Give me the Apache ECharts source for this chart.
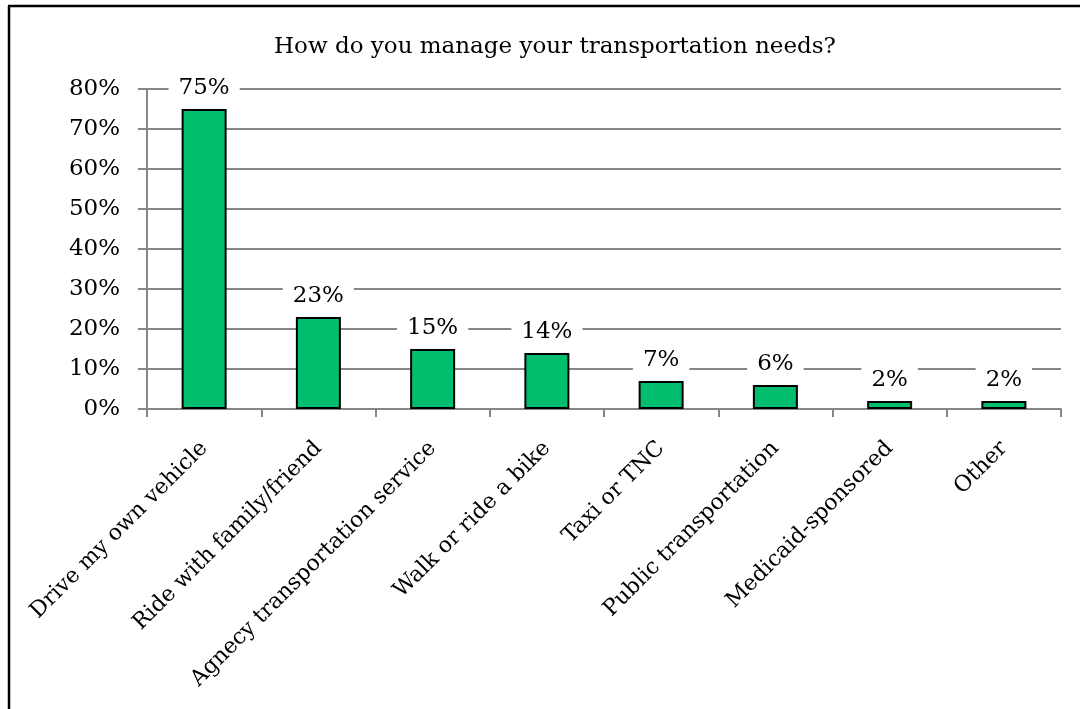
<!DOCTYPE html>
<html>
<head>
<meta charset="utf-8">
<script src="https://cdn.jsdelivr.net/npm/echarts@6/dist/echarts.min.js"></script>
<style>
  html, body { margin: 0; padding: 0; background: #fff; }
  #chart { width: 1080px; height: 709px; }
</style>
</head>
<body>
<div id="chart"></div>
<script>
// Survey answers: how respondents get around
const categories = [
  'Drive my own vehicle',
  'Ride with family/friend',
  'Agnecy transportation service',
  'Walk or ride a bike',
  'Taxi or TNC',
  'Public transportation',
  'Medicaid-sponsored',
  'Other'
];
const shares = [75, 23, 15, 14, 7, 6, 2, 2];   // percent of respondents
const chartTitle = 'How do you manage your transportation needs?';

const FONT = '"DejaVu Serif", "Liberation Serif", serif';
const GRID_GRAY = '#868686';

const chart = echarts.init(document.getElementById('chart'), null, { renderer: 'canvas' });

chart.setOption({
  backgroundColor: '#ffffff',
  animation: false,
  title: {
    text: chartTitle,
    left: 269,
    top: 31,
    textStyle: { fontFamily: FONT, fontSize: 23, fontWeight: 'normal', color: '#000' }
  },
  grid: { left: 147, right: 19, top: 89, bottom: 300, containLabel: false },
  xAxis: {
    type: 'category',
    data: categories,
    axisLine: { lineStyle: { color: GRID_GRAY, width: 2 } },
    axisTick: { show: true, length: 8, lineStyle: { color: GRID_GRAY, width: 2 } },
    axisLabel: {
      rotate: 45,
      interval: 0,
      margin: 36,
      padding: [24, 0, 0, 0],
      fontFamily: FONT,
      fontSize: 22,
      color: '#000'
    }
  },
  yAxis: {
    type: 'value',
    min: 0,
    max: 80,
    interval: 10,
    axisLine: { show: true, lineStyle: { color: GRID_GRAY, width: 2 } },
    axisTick: { show: true, length: 9, lineStyle: { color: GRID_GRAY, width: 2 } },
    splitLine: { lineStyle: { color: GRID_GRAY, width: 2 } },
    axisLabel: {
      formatter: '{value}%',
      margin: 27,
      fontFamily: FONT,
      fontSize: 23,
      color: '#000'
    }
  },
  series: [{
    type: 'bar',
    data: shares,
    barWidth: 45,
    itemStyle: { color: '#00BE6E', borderColor: '#000', borderWidth: 2 },
    label: {
      show: true,
      position: 'top',
      distance: 7,
      formatter: p => p.value + '%',
      fontFamily: FONT,
      fontSize: 23,
      color: '#000',
      backgroundColor: '#fff',
      padding: [2, 10, 2, 10]
    }
  }],
  graphic: [
    // frame: top and left edges
    { type: 'line', shape: { x1: 8, y1: 6, x2: 1080, y2: 6 }, style: { stroke: '#000', lineWidth: 2.5 } },
    { type: 'line', shape: { x1: 9, y1: 6, x2: 9, y2: 709 }, style: { stroke: '#000', lineWidth: 2.5 } }
  ]
});
</script>
</body>
</html>
